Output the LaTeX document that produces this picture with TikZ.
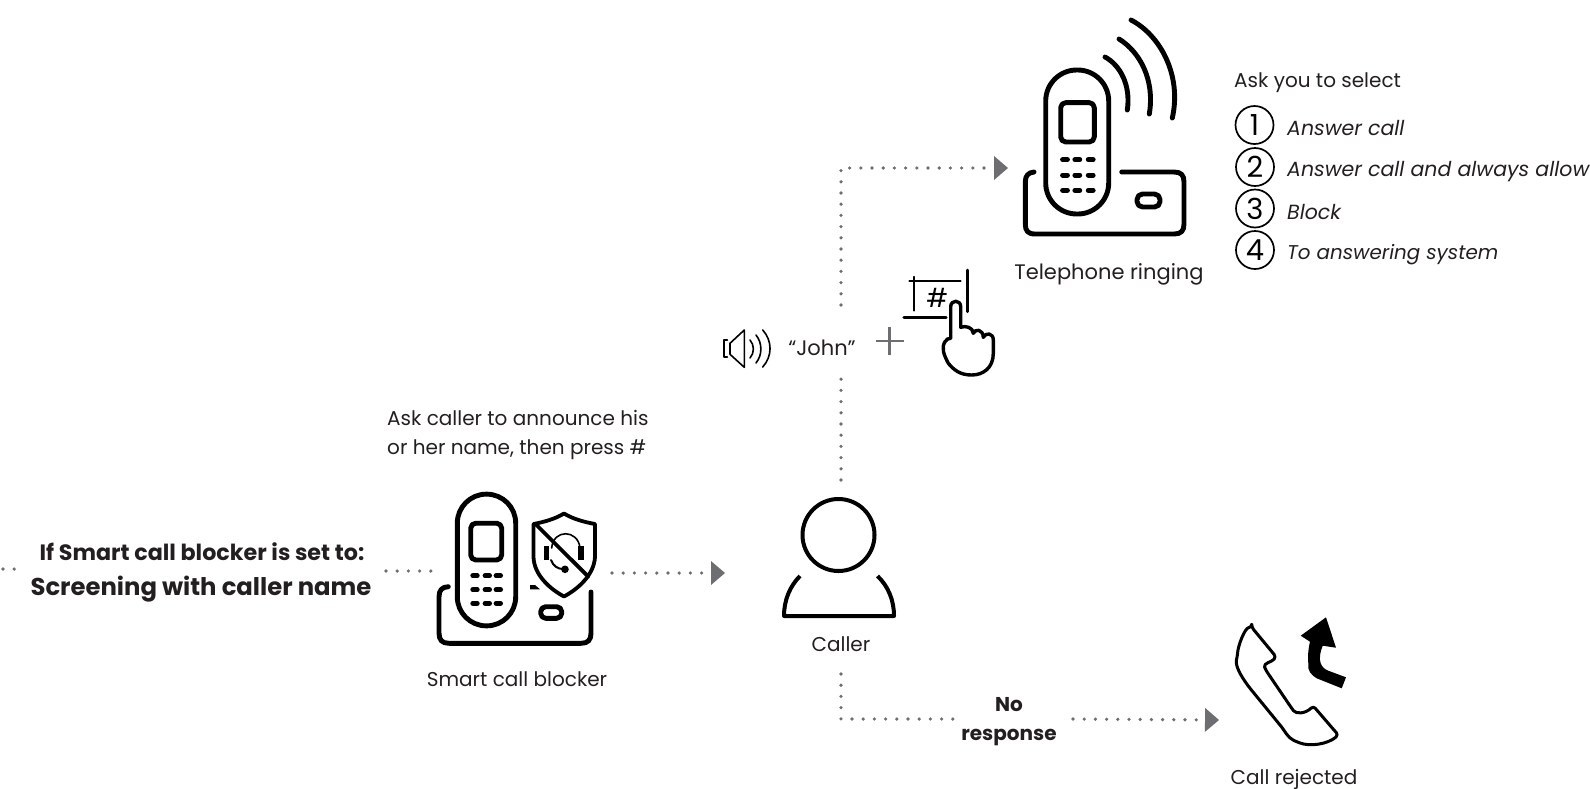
\documentclass[tikz,border=0pt]{standalone}
\usepackage{fontspec}
\setmainfont{Poppins}
\usepackage{xcolor}
\usetikzlibrary{arrows.meta}
\definecolor{inkdark}{HTML}{231F20}
\definecolor{dotgray}{HTML}{6D6E71}

\begin{document}
\begin{tikzpicture}[
		x=1pt, y=-1pt,
		txt/.style={inner sep=0pt, text=inkdark, font=\fontsize{20}{29}\selectfont},
		opt/.style={txt, anchor=west, font=\fontsize{20.5}{29}\selectfont\itshape},
		num/.style={circle, draw=black, line width=1.7pt, minimum size=38pt, inner sep=0pt, text=black, font=\fontsize{29}{30}\selectfont},
		icon/.style={draw=black, line width=4.9pt, line cap=round, line join=round},
		thin icon/.style={draw=black, line width=1.6pt, line cap=round, line join=round},
		handset/.style={icon, rectangle, inner sep=0pt},
		key/.style={draw=black, line width=5pt, line cap=round},
		dots/.style={draw=dotgray, line width=3.6pt, line cap=round, dash pattern=on 0pt off 11.2pt},
		arrow/.style={dots, -{Triangle[length=14pt, width=24pt, line width=0pt]}}
	]
	\useasboundingbox (0,0) rectangle (1590,788);

	% Texts
	\node[txt, font=\fontsize{22.2}{29}\selectfont\bfseries] (head1) at (202,552) {If Smart call blocker is set to:};
	\node[txt, font=\fontsize{24.3}{29}\selectfont\bfseries] (head2) at (201,589) {Screening with caller name};
	\node[txt, align=left, anchor=west] (askcaller) at (387,435) {Ask caller to announce his\\or her name, then press \#};
	\node[txt] (blockerlbl) at (517,679) {Smart call blocker};
	\node[txt] (callerlbl) at (841,644) {Caller};
	\node[txt, font=\fontsize{21}{29}\selectfont] (john) at (822,348) {“John”};
	\node[txt, font=\fontsize{21}{29}\selectfont] (ringlbl) at (1109,274) {Telephone ringing};
	\node[txt, align=center, font=\fontsize{20}{29}\selectfont\bfseries] (noresp) at (1009,722) {No\\response};
	\node[txt] (rejectlbl) at (1294,779) {Call rejected};
	\node[txt, anchor=west] (asksel) at (1234,83) {Ask you to select};

	% Options
	\node[num] (n1) at (1254.5,125) {1};
	\node[num] (n2) at (1255,167) {2};
	\node[num] (n3) at (1255,208.5) {3};
	\node[num] (n4) at (1255,250) {4};
	\node[opt] (o1) at (1287,128) {Answer call};
	\node[opt] (o2) at (1287,172) {Answer call and always allow};
	\node[opt] (o3) at (1287,212) {Block};
	\node[opt, font=\fontsize{19.9}{29}\selectfont\itshape] (o4) at (1287,255) {To answering system};

	% Connector ends
	\coordinate (offleft) at (3,569);
	\coordinate (head1end) at (386,571);
	\coordinate (base1end) at (431,571);
	\coordinate (out1) at (612,573);
	\coordinate (out1end) at (725,573);
	\coordinate (callertop) at (841,480);
	\coordinate (johnlow) at (841,374);
	\coordinate (johnhigh) at (841,305);
	\coordinate (ringin) at (1008,168);
	\coordinate (callerlow) at (841,674);
	\coordinate (noleft) at (958,719);
	\coordinate (noright) at (1073,719);
	\coordinate (rejectin) at (1219,720);

	% Connectors
	\draw[dots] (offleft) -- ++(12,0);
	\draw[dots] (head1end) -- (base1end);
	\draw[arrow] (out1) -- (out1end);
	\draw[dots] (callertop) -- (johnlow);
	\draw[arrow] (johnhigh) |- (ringin);
	\draw[dots] (callerlow) |- (noleft);
	\draw[arrow] (noright) -- (rejectin);

	% Smart call blocker
	\node[handset, rounded corners=29pt, minimum width=58.4pt, minimum height=131.7pt] (bhand) at (486.5,560) {};
	\node[handset, rounded corners=5pt, minimum width=31pt, minimum height=36.7pt] (bscreen) at (486.2,541.6) {};
	\foreach \kx in {475,487.3,498.3}
		\foreach \ky in {575.7,589.7,603.3}
			\draw[key] (\kx-2.2,\ky) -- (\kx+2.2,\ky);
	\draw[icon] (448.3,586.7) .. controls (442,587) and (439,590) .. (439,597) -- (439,633) .. controls (439,640) and (442,643.3) .. (449,643.3) -- (581,643.3) .. controls (588,643.3) and (591,640) .. (591,633) -- (591,592);
	\fill[black] (530,585) -- (535,585) -- (540,589.3) -- (530,589.3) -- cycle;
	\node[handset, rounded corners=5pt, minimum width=21pt, minimum height=11.6pt] (bbutton) at (551.2,612.5) {};
	\draw[icon, line width=3.8pt] (533.5,524) .. controls (544,522) and (555,519) .. (564,513.5) .. controls (573,519) and (584,522) .. (595,524) -- (595,557) .. controls (594,575) and (578,589) .. (564,596.5) .. controls (550,589) and (534,575) .. (533.5,557) -- cycle;
	\draw[icon, line width=3.8pt] (535,523.5) -- (588.3,576.7);
	\draw[thin icon] (551.7,548) .. controls (553,529) and (578,529) .. (580,548);
	\draw[icon, line cap=butt, line width=5.5pt] (546.7,546) -- (546.7,560);
	\draw[icon, line cap=butt, line width=5.5pt] (581,546) -- (581,560);
	\draw[thin icon, line width=2pt] (551,560) .. controls (553,566) and (558,569) .. (563,569);
	\fill[black] (565,569.3) circle (3.8pt);

	% Caller
	\node[circle, icon, line width=4pt, minimum size=72pt, inner sep=0pt] (chead) at (838.5,535) {};
	\draw[icon, line width=4pt, line cap=butt] (800,576) .. controls (790,586) and (784,600) .. (784,616) -- (894,616) .. controls (894,600) and (888,586) .. (877.5,576);

	% Speaker
	\draw[thin icon] (727.3,340) -- (724,340) -- (724,356.7) -- (727.3,356.7);
	\draw[thin icon] (744.3,330) -- (730,343.3) -- (730,354.3) -- (744.3,367.3) -- cycle;
	\draw[thin icon] (750,340) .. controls (754.5,345) and (754.5,353) .. (750,358);
	\draw[thin icon] (756,335) .. controls (762.5,343) and (762.5,355) .. (756,363);
	\draw[thin icon] (762.7,330) .. controls (772.5,341) and (772.5,356) .. (762.7,367);

	% Plus
	\draw[draw=dotgray, line width=2.6pt] (875.5,341) -- (903.5,341);
	\draw[draw=dotgray, line width=2.6pt] (889.5,327) -- (889.5,355);

	% Keypad and hand
	\draw[thin icon, line width=1.8pt] (909.3,281) -- (960.7,281);
	\draw[thin icon, line width=1.8pt] (914,276.7) -- (914,310.7);
	\draw[thin icon, line width=2.6pt] (967.3,270) -- (967.3,311.7);
	\draw[icon, line width=3.2pt] (904,317.3) -- (946,317.3);
	\node[inner sep=0pt, text=black, font=\fontsize{26}{30}\selectfont] (hash) at (937.3,298.3) {\#};
	\draw[icon, line width=3.4pt, fill=white] (945,341.7) .. controls (946.5,339) and (948.5,338.3) .. (950.7,338.3) -- (950.7,306.7) .. controls (950.7,299.5) and (960.7,299.5) .. (960.7,306.7) -- (960.7,327.3) .. controls (965,325.5) and (973,327) .. (973.3,333.3) .. controls (975,328.5) and (983,329) .. (983.3,337.3) .. controls (986,332) and (993.3,333) .. (993.3,340) -- (993.3,353.3) .. controls (993.3,368) and (983,375) .. (971.7,375) .. controls (960,375) and (954,370) .. (948.3,363.3) .. controls (944,355) and (941,348) .. (945,341.7) -- cycle;

	% Telephone ringing
	\node[handset, rounded corners=31pt, minimum width=63pt, minimum height=144pt] (rhand) at (1077.2,142) {};
	\node[handset, rounded corners=5pt, minimum width=33.6pt, minimum height=39.3pt] (rscreen) at (1077.5,122.3) {};
	\foreach \kx in {1065,1077.3,1090.7}
		\foreach \ky in {159.7,175,190.3}
			\draw[key] (\kx-2.4,\ky) -- (\kx+2.4,\ky);
	\draw[icon] (1034,172) .. controls (1028,172.5) and (1025.3,176) .. (1025.3,182) -- (1025.3,224) .. controls (1025.3,231) and (1028,234) .. (1035,234) -- (1174,234) .. controls (1181,234) and (1184,231) .. (1184,224) -- (1184,182) .. controls (1184,175) and (1181,172) .. (1174,172) -- (1121.7,172);
	\node[handset, rounded corners=5.5pt, minimum width=23pt, minimum height=13pt] (rbutton) at (1148.5,200.5) {};
	\draw[icon] (1105,57) .. controls (1120,65) and (1131,85) .. (1127.3,110);
	\draw[icon] (1119,39) .. controls (1140,52) and (1155,80) .. (1149.3,114);
	\draw[icon] (1131,20) .. controls (1160,35) and (1182,75) .. (1172.3,118);

	% Call rejected
	\draw[icon, line width=3pt, rounded corners=3pt] (1251.7,627.3) -- (1276,656.7) .. controls (1272,662) and (1263,663) .. (1265.7,670) -- (1291.7,708.3) .. controls (1296,714) and (1305,714) .. (1313.3,706) -- (1338.3,735) .. controls (1328,744) and (1310,747) .. (1296.7,741.7) .. controls (1288,738) and (1284,730) .. (1280,725) -- (1250,688.3) .. controls (1240,675) and (1235,665) .. (1237.3,656.7) .. controls (1238,645) and (1245,628) .. (1251.7,627.3) -- cycle;
	\fill[black] (1326,617.3) -- (1336,647.7) -- (1322.7,645.7) .. controls (1320,652) and (1319,659) .. (1320.7,663.3) .. controls (1322,667) and (1325,669.5) .. (1328.3,670.7) -- (1346,677.3) -- (1341.7,688.3) -- (1316.7,678.3) .. controls (1311,675) and (1307,670) .. (1308.3,663.3) .. controls (1307.5,655) and (1308.5,648) .. (1310,641.7) -- (1300.7,635.7) -- cycle;

\end{tikzpicture}
\end{document}
